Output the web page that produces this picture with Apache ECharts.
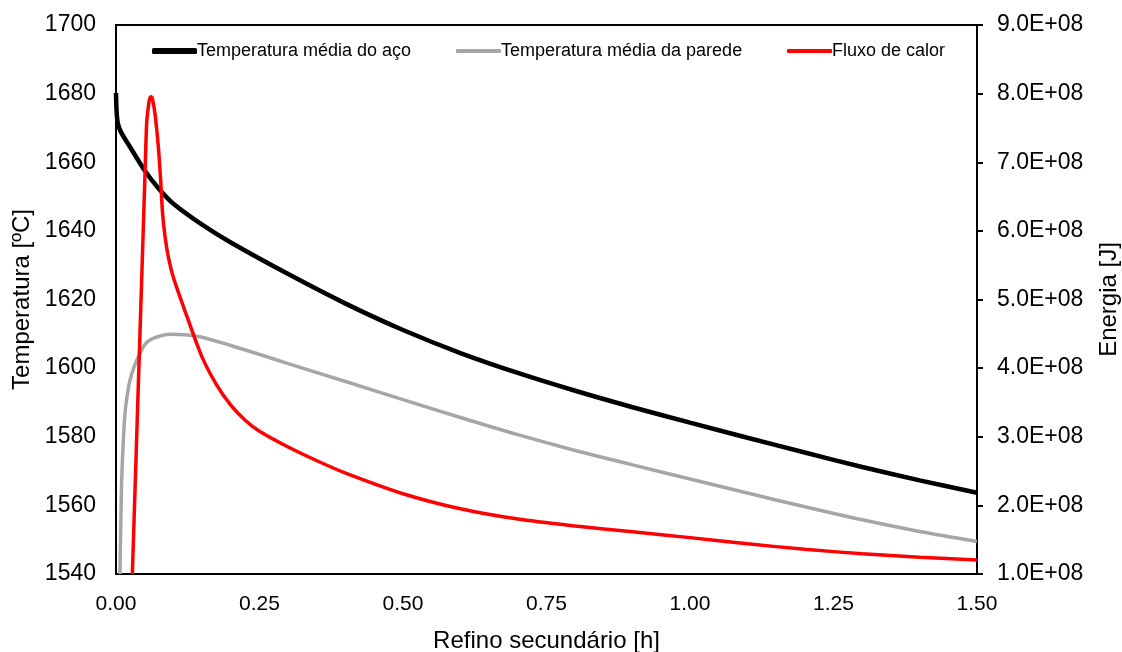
<!DOCTYPE html>
<html>
<head>
<meta charset="utf-8">
<script src="https://cdn.jsdelivr.net/npm/echarts@6/dist/echarts.min.js"></script>
<style>
  html, body { margin: 0; padding: 0; background: #fff; }
  #chart { width: 1122px; height: 652px; }
</style>
</head>
<body>
<div id="chart"></div>
<script>
// Tempo de refino secundário [h] e temperatura média do aço [°C]
const steelTime = [0, 0.001, 0.003, 0.008, 0.025, 0.05, 0.075, 0.1, 0.15, 0.2, 0.3, 0.4, 0.5, 0.6,
  0.7, 0.8, 0.9, 1.0, 1.1, 1.2, 1.3, 1.4, 1.5];
const steelTemp = [1680.2, 1675, 1671.5, 1669, 1664.3, 1657.6, 1652.2, 1647.9, 1641.8, 1636.6, 1627.4,
  1618.8, 1611.1, 1604.4, 1598.6, 1593.4, 1588.6, 1584.1, 1579.7, 1575.4, 1571.2, 1567.3, 1563.7];

// Temperatura média da parede [°C]
const wallTime = [0.0068, 0.0087, 0.0099, 0.0125, 0.0157, 0.02, 0.0244, 0.0318, 0.0418, 0.05, 0.0592,
  0.075, 0.094, 0.12, 0.15, 0.2, 0.25, 0.3, 0.4, 0.5, 0.6, 0.7, 0.8, 0.9, 1.0, 1.1, 1.2, 1.3, 1.4, 1.5];
const wallTemp = [1540, 1557.7, 1567.4, 1578, 1586.8, 1592.5, 1596.5, 1600.5, 1604.3, 1606.8, 1608.2,
  1609.3, 1609.85, 1609.7, 1609.0, 1606.6, 1604.0, 1601.3, 1596.1, 1590.8, 1585.6, 1580.6, 1576.0,
  1571.8, 1567.7, 1563.6, 1559.6, 1555.8, 1552.4, 1549.5];

// Fluxo de calor [J]
const fluxTime = [0.0285, 0.0447, 0.0502, 0.0534, 0.0563, 0.0585, 0.061, 0.0635, 0.0679, 0.0737,
  0.0778, 0.0811, 0.0854, 0.0912, 0.1, 0.125, 0.15, 0.175, 0.2, 0.225, 0.25, 0.3, 0.35, 0.4, 0.5,
  0.6, 0.7, 0.8, 0.9, 1.0, 1.1, 1.2, 1.3, 1.4, 1.5];
const fluxEnergy = [1.0e8, 5.28e8, 6.74e8, 7.57e8, 7.81e8, 7.92e8, 7.955e8, 7.92e8, 7.71e8, 7.23e8,
  6.74e8, 6.26e8, 5.92e8, 5.62e8, 5.32e8, 4.72e8, 4.16e8, 3.76e8, 3.46e8, 3.24e8, 3.08e8, 2.85e8,
  2.65e8, 2.47e8, 2.17e8, 1.95e8, 1.80e8, 1.70e8, 1.615e8, 1.53e8, 1.44e8, 1.36e8, 1.295e8, 1.245e8,
  1.204e8];

const seriesNames = ['Temperatura média do aço', 'Temperatura média da parede', 'Fluxo de calor'];
const seriesColors = ['#000000', '#A6A6A6', '#FF0000'];

const pairs = (xs, ys) => xs.map((x, i) => [x, ys[i]]);
const FONT = "'Liberation Sans', Arial, sans-serif";

const chart = echarts.init(document.getElementById('chart'), null, { renderer: 'canvas' });

const legendBase = {
  top: 42,
  padding: 0,
  orient: 'horizontal',
  itemWidth: 45,
  itemHeight: 4,
  icon: 'roundRect',
  selectedMode: false,
  textStyle: { fontFamily: FONT, fontSize: 18, color: '#000', padding: [0, 0, 0, -5] }
};

chart.setOption({
  animation: false,
  backgroundColor: '#fff',
  grid: {
    left: 116, right: 145, top: 25, bottom: 78,
    outerBoundsMode: 'none',
    containLabel: false,
    show: true, borderColor: '#000', borderWidth: 2, backgroundColor: 'transparent'
  },
  legend: [
    Object.assign({}, legendBase, { left: 152, data: [seriesNames[0]], itemHeight: 6 }),
    Object.assign({}, legendBase, { left: 456, data: [seriesNames[1]] }),
    Object.assign({}, legendBase, { left: 787, data: [seriesNames[2]] })
  ],
  xAxis: {
    type: 'value',
    min: 0, max: 1.5, interval: 0.25,
    name: 'Refino secundário [h]',
    nameLocation: 'middle',
    nameGap: 55,
    nameTextStyle: { fontFamily: FONT, fontSize: 24, color: '#000' },
    axisLine: { show: true, lineStyle: { color: '#000', width: 2 } },
    axisTick: { show: false },
    splitLine: { show: false },
    axisLabel: {
      fontFamily: FONT, fontSize: 21, color: '#000', margin: 20,
      formatter: v => v.toFixed(2)
    }
  },
  yAxis: [
    {
      type: 'value',
      position: 'left',
      min: 1540, max: 1700, interval: 20,
      name: 'Temperatura [ºC]',
      nameLocation: 'middle',
      nameRotate: 90,
      nameGap: 82,
      nameTextStyle: { fontFamily: FONT, fontSize: 24, color: '#000' },
      axisLine: { show: true, lineStyle: { color: '#000', width: 2 } },
      axisTick: { show: false },
      splitLine: { show: false },
      axisLabel: {
        fontFamily: FONT, fontSize: 23, color: '#000', margin: 20,
        formatter: v => String(v)
      }
    },
    {
      type: 'value',
      position: 'right',
      min: 1e8, max: 9e8, interval: 1e8,
      name: 'Energia [J]',
      nameLocation: 'middle',
      nameRotate: 90,
      nameGap: 120,
      nameTextStyle: { fontFamily: FONT, fontSize: 24, color: '#000' },
      axisLine: { show: true, lineStyle: { color: '#000', width: 2 } },
      axisTick: { show: true, inside: false, length: 6, lineStyle: { color: '#000', width: 2 } },
      splitLine: { show: false },
      axisLabel: {
        fontFamily: FONT, fontSize: 23, color: '#000', margin: 20,
        formatter: v => (v / 1e8).toFixed(1) + 'E+08'
      }
    }
  ],
  series: [
    {
      name: seriesNames[0], type: 'line', yAxisIndex: 0,
      data: pairs(steelTime, steelTemp),
      showSymbol: false, smooth: 0.3,
      lineStyle: { color: seriesColors[0], width: 4.5 },
      itemStyle: { color: seriesColors[0] }
    },
    {
      name: seriesNames[1], type: 'line', yAxisIndex: 0,
      data: pairs(wallTime, wallTemp),
      showSymbol: false, smooth: 0.3,
      lineStyle: { color: seriesColors[1], width: 3.5 },
      itemStyle: { color: seriesColors[1] }
    },
    {
      name: seriesNames[2], type: 'line', yAxisIndex: 1,
      data: pairs(fluxTime, fluxEnergy),
      showSymbol: false, smooth: 0.25,
      lineStyle: { color: seriesColors[2], width: 3.5 },
      itemStyle: { color: seriesColors[2] }
    }
  ]
});
</script>
</body>
</html>
